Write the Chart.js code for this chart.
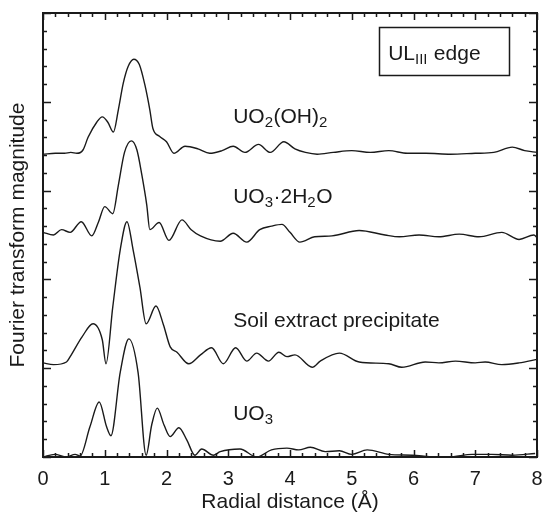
<!DOCTYPE html>
<html>
<head>
<meta charset="utf-8">
<script src="https://cdn.jsdelivr.net/npm/chart.js@4.4.1/dist/chart.umd.min.js"></script>
<style>
  html, body { margin: 0; padding: 0; background: #fff; }
  #wrap { width: 544px; height: 515px; position: relative; }
</style>
</head>
<body>
<div id="wrap"><canvas id="ft"></canvas></div>
<script>
// U L3-edge EXAFS Fourier transforms, stacked with vertical offsets
const ink = '#1a1a1a';
const fontFamily = '"Liberation Sans", Arial, Helvetica, sans-serif';

const xTicks = [0, 1, 2, 3, 4, 5, 6, 7, 8];

// [R (Å), offset magnitude]
const uo2oh2 = [
    [0, 3.41], [0.2, 3.42], [0.35, 3.42], [0.45, 3.43], [0.55, 3.42], [0.65, 3.46],
    [0.73, 3.60], [0.87, 3.77], [0.96, 3.83], [1.05, 3.77], [1.14, 3.66], [1.22, 3.91],
    [1.30, 4.21], [1.38, 4.40], [1.47, 4.48], [1.56, 4.42], [1.65, 4.19], [1.73, 3.91],
    [1.78, 3.70], [1.89, 3.61], [2.0, 3.55], [2.12, 3.42], [2.3, 3.50], [2.51, 3.47],
    [2.7, 3.42], [2.9, 3.45], [3.08, 3.50], [3.27, 3.43], [3.49, 3.52], [3.68, 3.43],
    [3.9, 3.55], [4.08, 3.47], [4.25, 3.43], [4.44, 3.41], [4.7, 3.43], [5.0, 3.45],
    [5.3, 3.43], [5.6, 3.45], [5.9, 3.42], [6.2, 3.42], [6.6, 3.41], [7.0, 3.42],
    [7.3, 3.43], [7.6, 3.49], [7.8, 3.45], [8.0, 3.43]
];

const uo3dihydrate = [
    [0, 2.53], [0.17, 2.50], [0.3, 2.56], [0.44, 2.53], [0.62, 2.65], [0.79, 2.49],
    [0.9, 2.65], [1.0, 2.82], [1.13, 2.74], [1.22, 3.06], [1.32, 3.43], [1.43, 3.56],
    [1.52, 3.46], [1.6, 3.18], [1.68, 2.84], [1.73, 2.56], [1.88, 2.64], [2.04, 2.44],
    [2.25, 2.67], [2.4, 2.56], [2.55, 2.49], [2.87, 2.43], [3.08, 2.52], [3.3, 2.42],
    [3.51, 2.56], [3.7, 2.60], [3.87, 2.62], [4.0, 2.53], [4.16, 2.42], [4.4, 2.48],
    [4.68, 2.49], [5.12, 2.55], [5.54, 2.50], [5.77, 2.48], [6.09, 2.50], [6.41, 2.48],
    [6.74, 2.51], [7.06, 2.48], [7.43, 2.53], [7.71, 2.45], [7.95, 2.50], [8.0, 2.47]
];

const soilPrecipitate = [
    [0, 1.06], [0.17, 1.04], [0.38, 1.07], [0.44, 1.13], [0.63, 1.35], [0.81, 1.50],
    [0.96, 1.32], [1.02, 1.05], [1.13, 1.69], [1.25, 2.33], [1.36, 2.65], [1.46, 2.33],
    [1.57, 1.91], [1.67, 1.50], [1.83, 1.70], [1.95, 1.49], [2.06, 1.24], [2.17, 1.18],
    [2.36, 1.05], [2.55, 1.15], [2.73, 1.23], [2.92, 1.05], [3.12, 1.23], [3.3, 1.08],
    [3.46, 1.17], [3.65, 1.08], [3.82, 1.18], [3.95, 1.13], [4.08, 1.15], [4.36, 1.01],
    [4.49, 1.08], [4.8, 1.17], [5.12, 1.07], [5.6, 1.05], [5.81, 1.01], [6.19, 1.07],
    [6.41, 1.06], [6.68, 1.08], [7.0, 1.06], [7.16, 1.07], [7.43, 1.04], [7.71, 1.06],
    [8.0, 1.10]
];

const uo3 = [
    [0, 0.0], [0.19, 0.03], [0.38, 0.0], [0.52, 0.03], [0.6, 0.01], [0.76, 0.34],
    [0.91, 0.62], [1.03, 0.34], [1.1, 0.24], [1.25, 0.95], [1.39, 1.33], [1.54, 0.95],
    [1.67, 0.02], [1.76, 0.36], [1.85, 0.55], [1.96, 0.36], [2.06, 0.23], [2.2, 0.33],
    [2.33, 0.19], [2.46, 0.02], [2.57, 0.09], [2.76, 0.02], [2.87, 0.06], [3.19, 0.09],
    [3.46, 0.0], [3.7, 0.08], [3.95, 0.10], [4.14, 0.08], [4.33, 0.11], [4.57, 0.06],
    [4.8, 0.07], [5.0, 0.03], [5.25, 0.08], [5.6, 0.03], [5.98, 0.02], [6.35, 0.0],
    [6.57, 0.0], [6.95, 0.03], [7.27, 0.03], [7.6, 0.02], [7.97, 0.04]
];

// curve labels: pieces are [text, isSubscript]; anchor in data units
const curveLabels = [
    { at: [3.08, 3.76], parts: [['UO', 0], ['2', 1], ['(OH)', 0], ['2', 1]] },
    { at: [3.08, 2.86], parts: [['UO', 0], ['3', 1], ['\u00b72H', 0], ['2', 1], ['O', 0]] },
    { at: [3.08, 1.46], parts: [['Soil extract precipitate', 0]] },
    { at: [3.08, 0.42], parts: [['UO', 0], ['3', 1]] }
];
const edgeLabel = { box: [5.44, 4.84, 7.55, 4.30], at: [5.59, 4.47], parts: [['UL', 0], ['III', 1], [' edge', 0]] };

function toPoints(pairs) {
    return pairs.map(p => ({ x: p[0], y: p[1] }));
}

function drawParts(ctx, x, y, parts) {
    let cx = x;
    parts.forEach(([txt, sub]) => {
        ctx.font = (sub ? '15px ' : '21px ') + fontFamily;
        ctx.fillText(txt, cx, sub ? y + 4 : y);
        cx += ctx.measureText(txt).width + (sub ? 0.5 : 0);
    });
}

// inward ticks on all four sides, frame and text annotations
const framePlugin = {
    id: 'frame',
    afterDraw(chart) {
        const { ctx, chartArea: a, scales: { x, y } } = chart;
        ctx.save();
        ctx.strokeStyle = ink;
        ctx.lineWidth = 1.5;
        ctx.beginPath();
        for (let i = 0; i <= 40; i++) {
            const v = i * 0.2;
            const px = Math.round(x.getPixelForValue(v)) + 0.5;
            const len = i % 5 === 0 ? 7 : 4;
            ctx.moveTo(px, a.bottom); ctx.lineTo(px, a.bottom - len);
            ctx.moveTo(px, a.top); ctx.lineTo(px, a.top + len);
        }
        for (let i = 0; i <= 25; i++) {
            const v = i * 0.2;
            const py = Math.round(y.getPixelForValue(v)) + 0.5;
            const len = i % 5 === 0 ? 8 : 4;
            ctx.moveTo(a.left, py); ctx.lineTo(a.left + len, py);
            ctx.moveTo(a.right, py); ctx.lineTo(a.right - len, py);
        }
        ctx.stroke();

        ctx.lineWidth = 2;
        ctx.strokeRect(a.left, a.top, a.right - a.left, a.bottom - a.top);

        ctx.fillStyle = ink;
        ctx.textBaseline = 'alphabetic';
        ctx.textAlign = 'left';
        curveLabels.forEach(l => {
            drawParts(ctx, x.getPixelForValue(l.at[0]), y.getPixelForValue(l.at[1]), l.parts);
        });

        const [x0, y0, x1, y1] = edgeLabel.box;
        const bx = x.getPixelForValue(x0), by = y.getPixelForValue(y0);
        ctx.lineWidth = 1.5;
        ctx.strokeRect(Math.round(bx) + 0.5, Math.round(by) + 0.5,
            Math.round(x.getPixelForValue(x1) - bx), Math.round(y.getPixelForValue(y1) - by));
        drawParts(ctx, x.getPixelForValue(edgeLabel.at[0]), y.getPixelForValue(edgeLabel.at[1]), edgeLabel.parts);
        ctx.restore();
    }
};

function lineSet(label, pairs) {
    return {
        label: label,
        data: toPoints(pairs),
        borderColor: ink,
        borderWidth: 1.4,
        pointRadius: 0,
        fill: false,
        cubicInterpolationMode: 'monotone',
        clip: false
    };
}

const canvas = document.getElementById('ft');
new Chart(canvas, {
    type: 'line',
    data: {
        datasets: [
            lineSet('UO2(OH)2', uo2oh2),
            lineSet('UO3·2H2O', uo3dihydrate),
            lineSet('Soil extract precipitate', soilPrecipitate),
            lineSet('UO3', uo3)
        ]
    },
    options: {
        responsive: true,
        maintainAspectRatio: false,
        animation: false,
        events: [],
        layout: { padding: { top: 13, right: 7, left: 0, bottom: 0 } },
        plugins: { legend: { display: false }, tooltip: { enabled: false } },
        scales: {
            x: {
                type: 'linear',
                min: 0,
                max: 8,
                afterFit: s => { s.height = 58; s.paddingLeft = 0; s.paddingRight = 0; },
                afterBuildTicks: s => { s.ticks = xTicks.map(v => ({ value: v })); },
                grid: { display: false, drawTicks: false },
                border: { display: false },
                ticks: {
                    color: ink,
                    padding: 10,
                    maxRotation: 0,
                    autoSkip: false,
                    font: { size: 20, family: fontFamily }
                },
                title: {
                    display: true,
                    text: 'Radial distance (\u00c5)',
                    color: ink,
                    padding: { top: 0, bottom: 0 },
                    font: { size: 21, family: fontFamily }
                }
            },
            y: {
                type: 'linear',
                min: 0,
                max: 5,
                afterFit: s => { s.width = 43; s.paddingTop = 0; s.paddingBottom = 0; },
                grid: { display: false, drawTicks: false },
                border: { display: false },
                ticks: { display: false },
                title: {
                    display: true,
                    text: 'Fourier transform magnitude',
                    color: ink,
                    padding: { top: 6, bottom: 0 },
                    font: { size: 21, family: fontFamily }
                }
            }
        }
    },
    plugins: [framePlugin]
});
</script>
</body>
</html>
